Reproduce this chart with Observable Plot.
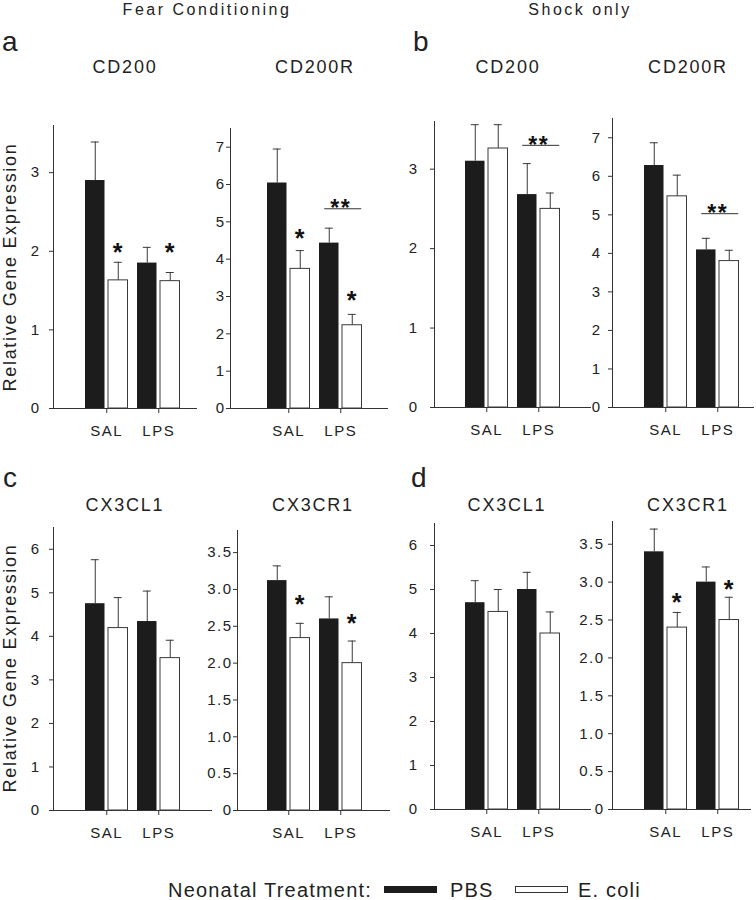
<!DOCTYPE html>
<html>
<head>
<meta charset="utf-8">
<script src="https://cdn.jsdelivr.net/npm/d3@7"></script>
<script src="https://cdn.jsdelivr.net/npm/@observablehq/plot@0.6"></script>
<style>
  html, body { margin: 0; padding: 0; background: white; }
  #chart { position: relative; width: 756px; height: 900px; overflow: hidden; font-family: "Liberation Sans", Arial, sans-serif; color: #222; }
  .lbl { position: absolute; white-space: nowrap; line-height: 1; }
  .sw { position: absolute; box-sizing: border-box; }
</style>
</head>
<body>
<div id="chart"></div>
<script>
// ---------------- data ----------------
const groups = ["SAL", "LPS"];
const treatments = ["PBS", "E. coli"];
// value order in each array: SAL-PBS, SAL-E.coli, LPS-PBS, LPS-E.coli
// Fear Conditioning
const fearCD200Mean   = [2.90, 1.63, 1.85, 1.62];
const fearCD200Err    = [0.49, 0.23, 0.20, 0.11];
const fearCD200RMean  = [6.04, 3.74, 4.43, 2.23];
const fearCD200RErr   = [0.91, 0.49, 0.40, 0.29];
const fearCX3CL1Mean  = [4.75, 4.19, 4.34, 3.50];
const fearCX3CL1Err   = [1.01, 0.70, 0.70, 0.41];
const fearCX3CR1Mean  = [3.12, 2.34, 2.60, 2.00];
const fearCX3CR1Err   = [0.20, 0.20, 0.30, 0.30];
// Shock only
const shockCD200Mean  = [3.10, 3.26, 2.68, 2.50];
const shockCD200Err   = [0.46, 0.30, 0.39, 0.20];
const shockCD200RMean = [6.28, 5.48, 4.09, 3.80];
const shockCD200RErr  = [0.59, 0.55, 0.30, 0.28];
const shockCX3CL1Mean = [4.70, 4.49, 5.00, 4.00];
const shockCX3CL1Err  = [0.50, 0.51, 0.39, 0.49];
const shockCX3CR1Mean = [3.40, 2.40, 3.00, 2.50];
const shockCX3CR1Err  = [0.30, 0.20, 0.20, 0.30];
// significance marks: "*" over E. coli bar (SAL, LPS), "**" bracket over LPS pair
const fearCD200Star   = [2.07, 2.07];
const fearCD200RStar  = [4.72, 3.08];
const fearCX3CR1Star  = [2.89, 2.62];
const shockCX3CR1Star = [2.82, 2.99];
const fearCD200RPair  = [null, 5.35];
const shockCD200Pair  = [null, 3.30];
const shockCD200RPair = [null, 5.03];
// axis ticks
const ticksCD200  = [0, 1, 2, 3];
const ticksCD200R = [0, 1, 2, 3, 4, 5, 6, 7];
const ticksCX3CL1 = [0, 1, 2, 3, 4, 5, 6];
const ticksCX3CR1 = [0, 0.5, 1.0, 1.5, 2.0, 2.5, 3.0, 3.5];

// ---------------- layout ----------------
const W = 756, H = 900;
const intFmt = d => String(d);
const decFmt = d => d === 0 ? "0" : d.toFixed(1);
const panels = [
  {mean: fearCD200Mean,  err: fearCD200Err,  star: fearCD200Star,  pair: null, ticks: ticksCD200,  ymax: 3.6, fmt: intFmt,
   axisX: 53,  top: 125, zero: 408, end: 197, x0: 80.25,  pad: 9},
  {mean: fearCD200RMean, err: fearCD200RErr, star: fearCD200RStar, pair: fearCD200RPair, ticks: ticksCD200R, ymax: 7.5, fmt: intFmt,
   axisX: 230, top: 128, zero: 408, end: 388, x0: 262.25, pad: 1},
  {mean: shockCD200Mean, err: shockCD200Err, star: null, pair: shockCD200Pair, ticks: ticksCD200, ymax: 3.6, fmt: intFmt,
   axisX: 434, top: 121, zero: 407, end: 591, x0: 460.25, pad: 12},
  {mean: shockCD200RMean, err: shockCD200RErr, star: null, pair: shockCD200RPair, ticks: ticksCD200R, ymax: 7.5, fmt: intFmt,
   axisX: 612, top: 118, zero: 407, end: 754, x0: 639.25, pad: 7},
  {mean: fearCX3CL1Mean, err: fearCX3CL1Err, star: null, pair: null, ticks: ticksCX3CL1, ymax: 6.5, fmt: intFmt,
   axisX: 53,  top: 527, zero: 810, end: 212, x0: 80.25, pad: 9},
  {mean: fearCX3CR1Mean, err: fearCX3CR1Err, star: fearCX3CR1Star, pair: null, ticks: ticksCX3CR1, ymax: 3.8, fmt: decFmt,
   axisX: 237, top: 530, zero: 810, end: 390, x0: 262.25, pad: 1},
  {mean: shockCX3CL1Mean, err: shockCX3CL1Err, star: null, pair: null, ticks: ticksCX3CL1, ymax: 6.5, fmt: intFmt,
   axisX: 434, top: 523, zero: 809, end: 591, x0: 460.25, pad: 12},
  {mean: shockCX3CR1Mean, err: shockCX3CR1Err, star: shockCX3CR1Star, pair: null, ticks: ticksCX3CR1, ymax: 3.8, fmt: decFmt,
   axisX: 612, top: 521, zero: 809, end: 751, x0: 639.25, pad: 4}
];

const STEP = 52, BW = 19.5, GAP = 3.5, OUT = (STEP - 2 * BW - GAP) / 2, CAP = 4;
const INK = "#333", ERR = "#3a3a3a";
const chart = document.getElementById("chart");

for (const p of panels) {
  const rows = groups.flatMap((g, gi) => treatments.map((t, ti) => ({
    group: g, treatment: t,
    mean: p.mean[gi * 2 + ti],
    top: p.mean[gi * 2 + ti] + p.err[gi * 2 + ti]
  })));
  const pbs = rows.filter(d => d.treatment === "PBS");
  const eco = rows.filter(d => d.treatment === "E. coli");
  const stars = p.star ? groups.map((g, i) => ({group: g, y: p.star[i]})).filter(d => d.y != null) : [];
  const pairs = p.pair ? groups.map((g, i) => ({group: g, y: p.pair[i]})).filter(d => d.y != null) : [];

  const svg = Plot.plot({
    width: W, height: H,
    marginLeft: p.axisX, marginRight: W - p.end, marginTop: p.top, marginBottom: H - p.zero,
    style: {background: "transparent", fontFamily: "'Liberation Sans', Arial, sans-serif", fontSize: "15px", letterSpacing: "1.5px", color: "#222", overflow: "visible"},
    x: {domain: groups, range: [p.x0, p.x0 + 2 * STEP], padding: 0, round: false},
    y: {domain: [0, p.ymax]},
    marks: [
      Plot.axisY({ticks: p.ticks, tickFormat: p.fmt, tickSize: 4, tickPadding: p.pad, label: null, fontSize: 15, stroke: INK}),
      Plot.axisX({tickSize: 5, tickPadding: 12, label: null, fontSize: 15, stroke: INK}),
      Plot.frame({anchor: "left", stroke: INK}),
      Plot.ruleY([0], {insetLeft: -3, stroke: INK}),
      Plot.barY(pbs, {x: "group", y: "mean", fill: "#1c1c1c", insetLeft: OUT, insetRight: OUT + BW + GAP}),
      Plot.barY(eco, {x: "group", y: "mean", fill: "white", stroke: ERR, strokeWidth: 1, insetLeft: OUT + BW + GAP, insetRight: OUT}),
      Plot.ruleX(pbs, {x: "group", y1: "mean", y2: "top", dx: -(GAP + BW) / 2, stroke: ERR}),
      Plot.ruleX(eco, {x: "group", y1: "mean", y2: "top", dx: (GAP + BW) / 2, stroke: ERR}),
      Plot.tickY(pbs, {x: "group", y: "top", stroke: ERR, insetLeft: OUT + BW / 2 - CAP, insetRight: STEP - OUT - BW / 2 - CAP}),
      Plot.tickY(eco, {x: "group", y: "top", stroke: ERR, insetLeft: STEP - OUT - BW / 2 - CAP, insetRight: OUT + BW / 2 - CAP}),
      Plot.text(stars, {x: "group", y: "y", text: () => "*", dx: (GAP + BW) / 2, dy: 7, fontSize: 25, fontWeight: "bold", fill: "#111"}),
      Plot.tickY(pairs, {x: "group", y: "y", stroke: INK, insetLeft: 10, insetRight: 5}),
      Plot.text(pairs, {x: "group", y: "y", text: () => "**", dx: 0, dy: 0, fontSize: 23, fontWeight: "bold", fill: "#111", letterSpacing: "3px"})
    ]
  });
  svg.style.position = "absolute";
  svg.style.left = "0px";
  svg.style.top = "0px";
  chart.append(svg);
}

// ---------------- text labels ----------------
function label(text, x, baseline, size, opts = {}) {
  const d = document.createElement("div");
  d.className = "lbl";
  d.textContent = text;
  d.style.fontSize = size + "px";
  d.style.letterSpacing = (opts.ls ?? 1.5) + "px";
  d.style.top = (baseline - 0.8465 * size) + "px";
  d.style.left = x + "px";
  if (opts.center) d.style.transform = "translateX(-50%)";
  chart.append(d);
  return d;
}
function ylabel(text, cx, cy, size) {
  const d = document.createElement("div");
  d.className = "lbl";
  d.textContent = text;
  d.style.fontSize = size + "px";
  d.style.letterSpacing = "1.7px";
  d.style.left = cx + "px";
  d.style.top = cy + "px";
  d.style.transform = "translate(-50%, -50%) rotate(-90deg)";
  chart.append(d);
}

label("Fear Conditioning", 207, 16, 16, {center: true, ls: 2.5});
label("Shock only", 580, 16, 16, {center: true, ls: 2.5});
label("a", 2, 52, 28, {ls: 0});
label("b", 413, 52, 28, {ls: 0});
label("c", 3, 488, 28, {ls: 0});
label("d", 411, 488, 28, {ls: 0});
label("CD200", 125, 73, 18, {center: true, ls: 1.8});
label("CD200R", 315, 73, 18, {center: true, ls: 1.8});
label("CD200", 508, 73, 18, {center: true, ls: 1.8});
label("CD200R", 688, 73, 18, {center: true, ls: 1.8});
label("CX3CL1", 125, 511, 18, {center: true, ls: 1.8});
label("CX3CR1", 313, 511, 18, {center: true, ls: 1.8});
label("CX3CL1", 507, 511, 18, {center: true, ls: 1.8});
label("CX3CR1", 688, 511, 18, {center: true, ls: 1.8});
ylabel("Relative Gene Expression", 10, 267, 18);
ylabel("Relative Gene Expression", 10, 668, 18);

// legend
label("Neonatal Treatment:", 168, 897, 20, {ls: 1.2});
const sw1 = document.createElement("div");
sw1.className = "sw";
Object.assign(sw1.style, {left: "384px", top: "886px", width: "53px", height: "7px", background: "#1c1c1c"});
chart.append(sw1);
label(treatments[0], 450, 897, 20, {ls: 1.2});
const sw2 = document.createElement("div");
sw2.className = "sw";
Object.assign(sw2.style, {left: "515px", top: "886px", width: "53px", height: "7px", background: "white", border: "1px solid #333"});
chart.append(sw2);
label(treatments[1], 578, 897, 20, {ls: 1.2});
</script>
</body>
</html>
